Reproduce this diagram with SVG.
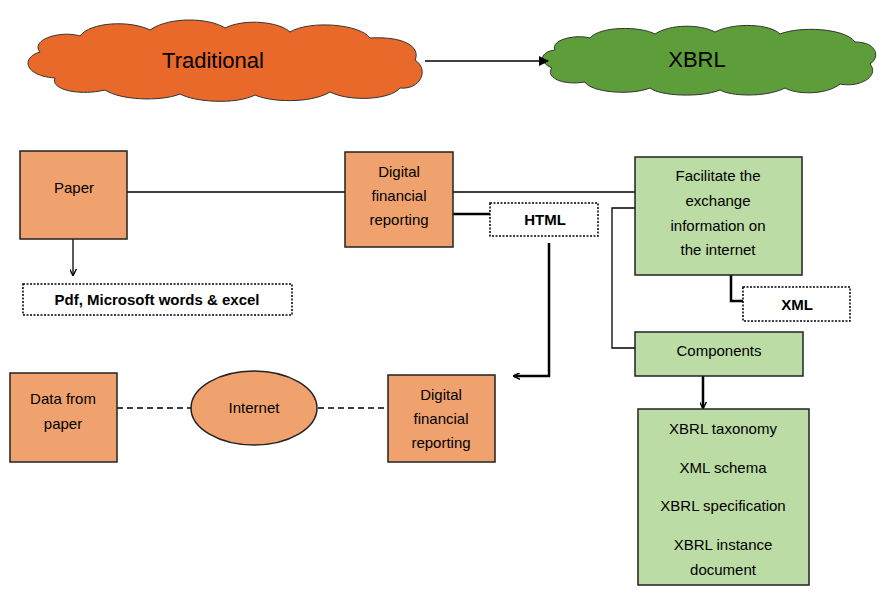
<svg xmlns="http://www.w3.org/2000/svg" width="879" height="596" viewBox="0 0 879 596">
<style>
text{font-family:"Liberation Sans",Arial,sans-serif;font-size:15px;text-anchor:middle;fill:#000}
.o{fill:#F0A26E;stroke:#222;stroke-width:1.5}
.g{fill:#BCDCA6;stroke:#222;stroke-width:1.5}
.d{fill:#fff;stroke:#000;stroke-width:1.5;stroke-dasharray:2 1.5}
.b{font-weight:bold}
.l{fill:none;stroke:#000;stroke-width:1.3}
.t{fill:none;stroke:#000;stroke-width:2.5}
</style>
<defs>
<marker id="a" viewBox="0 0 10 10" refX="9" refY="5" markerWidth="7" markerHeight="7" orient="auto" markerUnits="userSpaceOnUse"><path d="M0,0L10,5L0,10" fill="none" stroke="#000" stroke-width="2"/></marker>
<marker id="f" viewBox="0 0 10 10" refX="9" refY="5" markerWidth="10" markerHeight="10" orient="auto" markerUnits="userSpaceOnUse"><path d="M0,0L10,5L0,10z" fill="#000"/></marker>
</defs>
<g id="traditional"><path d="M40,52 C30,40 60,30 80,36 C90,22 130,20 150,30 C170,16 210,18 225,28 C245,18 280,22 290,32 C310,20 360,24 370,38 C410,36 420,50 415,60 C430,70 420,90 400,88 C390,100 350,102 330,92 C310,104 270,102 255,95 C235,105 195,102 180,94 C160,102 120,100 105,90 C80,96 50,90 55,78 C25,76 20,58 40,52Z" fill="#E8692A" stroke="#333" stroke-width="1"/><text x="213" y="68" style="font-size:22px">Traditional</text></g>
<g id="xbrl"><path d="M555,50 C550,40 575,34 590,38 C600,26 640,26 655,34 C670,24 700,24 715,32 C735,22 770,24 780,34 C800,26 845,28 855,42 C878,42 880,58 870,64 C880,76 860,88 840,84 C825,96 795,94 785,88 C765,98 730,96 720,90 C700,98 660,96 650,88 C630,96 590,92 585,82 C560,86 545,76 552,68 C538,62 540,52 555,50Z" fill="#5D9E3A" stroke="#333" stroke-width="1"/><text x="697" y="67" style="font-size:22px">XBRL</text></g>
<g id="connectors">
<line x1="425" y1="61" x2="548" y2="61" class="l" marker-end="url(#f)"/>
<line x1="127" y1="192" x2="345" y2="192" class="l"/>
<line x1="453" y1="192" x2="635" y2="192" class="l"/>
<line x1="453" y1="214" x2="510" y2="214" class="t" marker-end="url(#a)"/>
<line x1="73" y1="239" x2="73" y2="275" class="l" marker-end="url(#a)"/>
<polyline points="731,275 731,301 762,301" class="t" marker-end="url(#f)"/>
<polyline points="635,208 612,208 612,348 635,348" class="l"/>
<line x1="703" y1="376" x2="703" y2="408" class="t" marker-end="url(#a)"/>
<polyline points="549,243 549,376 514,376" class="t" marker-end="url(#a)"/>
<line x1="117" y1="408" x2="192" y2="408" class="l" stroke-dasharray="6 4" stroke-width="2"/>
<line x1="318" y1="408" x2="386" y2="408" class="l" stroke-dasharray="6 4" stroke-width="2"/>
</g>
<g id="paper"><rect x="20" y="151" width="107" height="88" class="o"/><text x="74" y="193">Paper</text></g>
<g id="pdf"><rect x="23" y="284" width="269" height="31" class="d"/><text x="157" y="305" class="b">Pdf, Microsoft words &amp; excel</text></g>
<g id="dfr1"><rect x="345" y="152" width="108" height="95" class="o"/><text x="399" y="177">Digital</text><text x="399" y="201">financial</text><text x="399" y="225">reporting</text></g>
<g id="html"><rect x="490" y="203" width="108" height="33" class="d"/><text x="545" y="225" class="b">HTML</text></g>
<g id="facilitate"><rect x="635" y="157" width="167" height="118" class="g"/><text x="718" y="181">Facilitate the</text><text x="718" y="206">exchange</text><text x="718" y="231">information on</text><text x="718" y="255">the internet</text></g>
<g id="xml"><rect x="743" y="287" width="107" height="34" class="d"/><text x="797" y="310" class="b">XML</text></g>
<g id="components"><rect x="635" y="332" width="168" height="44" class="g"/><text x="719" y="356">Components</text></g>
<g id="list"><rect x="638" y="409" width="171" height="176" class="g"/><text x="723" y="434">XBRL taxonomy</text><text x="723" y="473">XML schema</text><text x="723" y="511">XBRL specification</text><text x="723" y="550">XBRL instance</text><text x="723" y="575">document</text></g>
<g id="data"><rect x="10" y="373" width="107" height="89" class="o"/><text x="63" y="404">Data from</text><text x="63" y="429">paper</text></g>
<g id="internet"><ellipse cx="254" cy="408" rx="63" ry="37" class="o"/><text x="254" y="413">Internet</text></g>
<g id="dfr2"><rect x="388" y="375" width="107" height="87" class="o"/><text x="441" y="400">Digital</text><text x="441" y="424">financial</text><text x="441" y="448">reporting</text></g>
</svg>
